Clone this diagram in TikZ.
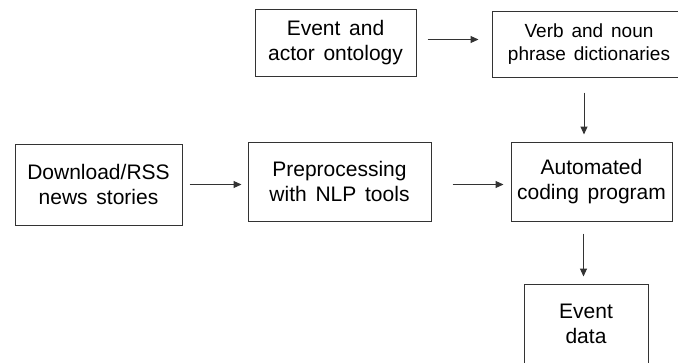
\documentclass[tikz,border=0pt]{standalone}
\usepackage{fontspec}
\setmainfont{Liberation Sans}[WordSpace={1.5,1,1}]
\usetikzlibrary{arrows.meta,calc}
\tikzset{
  box/.style={draw=black!80, line width=1pt, inner sep=0pt, align=center,
    font=\fontsize{21}{25.5}\selectfont},
  arr/.style={draw=black!80, line width=1pt, -{Triangle[length=8pt,width=7pt]}}
}
\begin{document}
\begin{tikzpicture}[x=1pt,y=-1pt]
\useasboundingbox (0,0) rectangle (678,362);
\begin{scope}
\clip (0,0) rectangle (678,362);
\node[box, minimum width=161pt, minimum height=67pt] (ont) at (335.5,42.5) {Event and\\actor ontology};
\node[box, minimum width=194pt, minimum height=66pt, font=\fontsize{19}{23}\selectfont] (dict) at (589,44) {Verb and noun\\phrase dictionaries};
\node[box, minimum width=167pt, minimum height=81pt] (dl) at (98.5,184.5) {Download/RSS\\news stories};
\node[box, minimum width=183pt, minimum height=79pt] (pre) at (339.5,181.5) {Preprocessing\\with NLP tools};
\node[box, minimum width=161pt, minimum height=79pt] (auto) at (591.5,181.5) {Automated\\coding program};
\node[box, minimum width=124pt, minimum height=80pt] (ev) at (586,324) {Event\\data};
\end{scope}
\draw[arr, shorten <=11pt, shorten >=13pt] ([yshift=3pt]ont.east) -- ([yshift=3pt]ont.east -| dict.west);
\draw[arr, shorten <=7pt, shorten >=6pt] (dl.east) -- (dl.east -| pre.west);
\draw[arr, shorten <=21pt, shorten >=7pt] (dl.east -| pre.east) -- (dl.east -| auto.west);
\draw[arr, shorten <=15pt, shorten >=7pt] ([xshift=-5pt]dict.south) -- ([xshift=-5pt]dict.south |- auto.north);
\draw[arr, shorten <=12pt, shorten >=7pt] ([xshift=-2.5pt]ev.north |- auto.south) -- ([xshift=-2.5pt]ev.north);
\end{tikzpicture}
\end{document}
